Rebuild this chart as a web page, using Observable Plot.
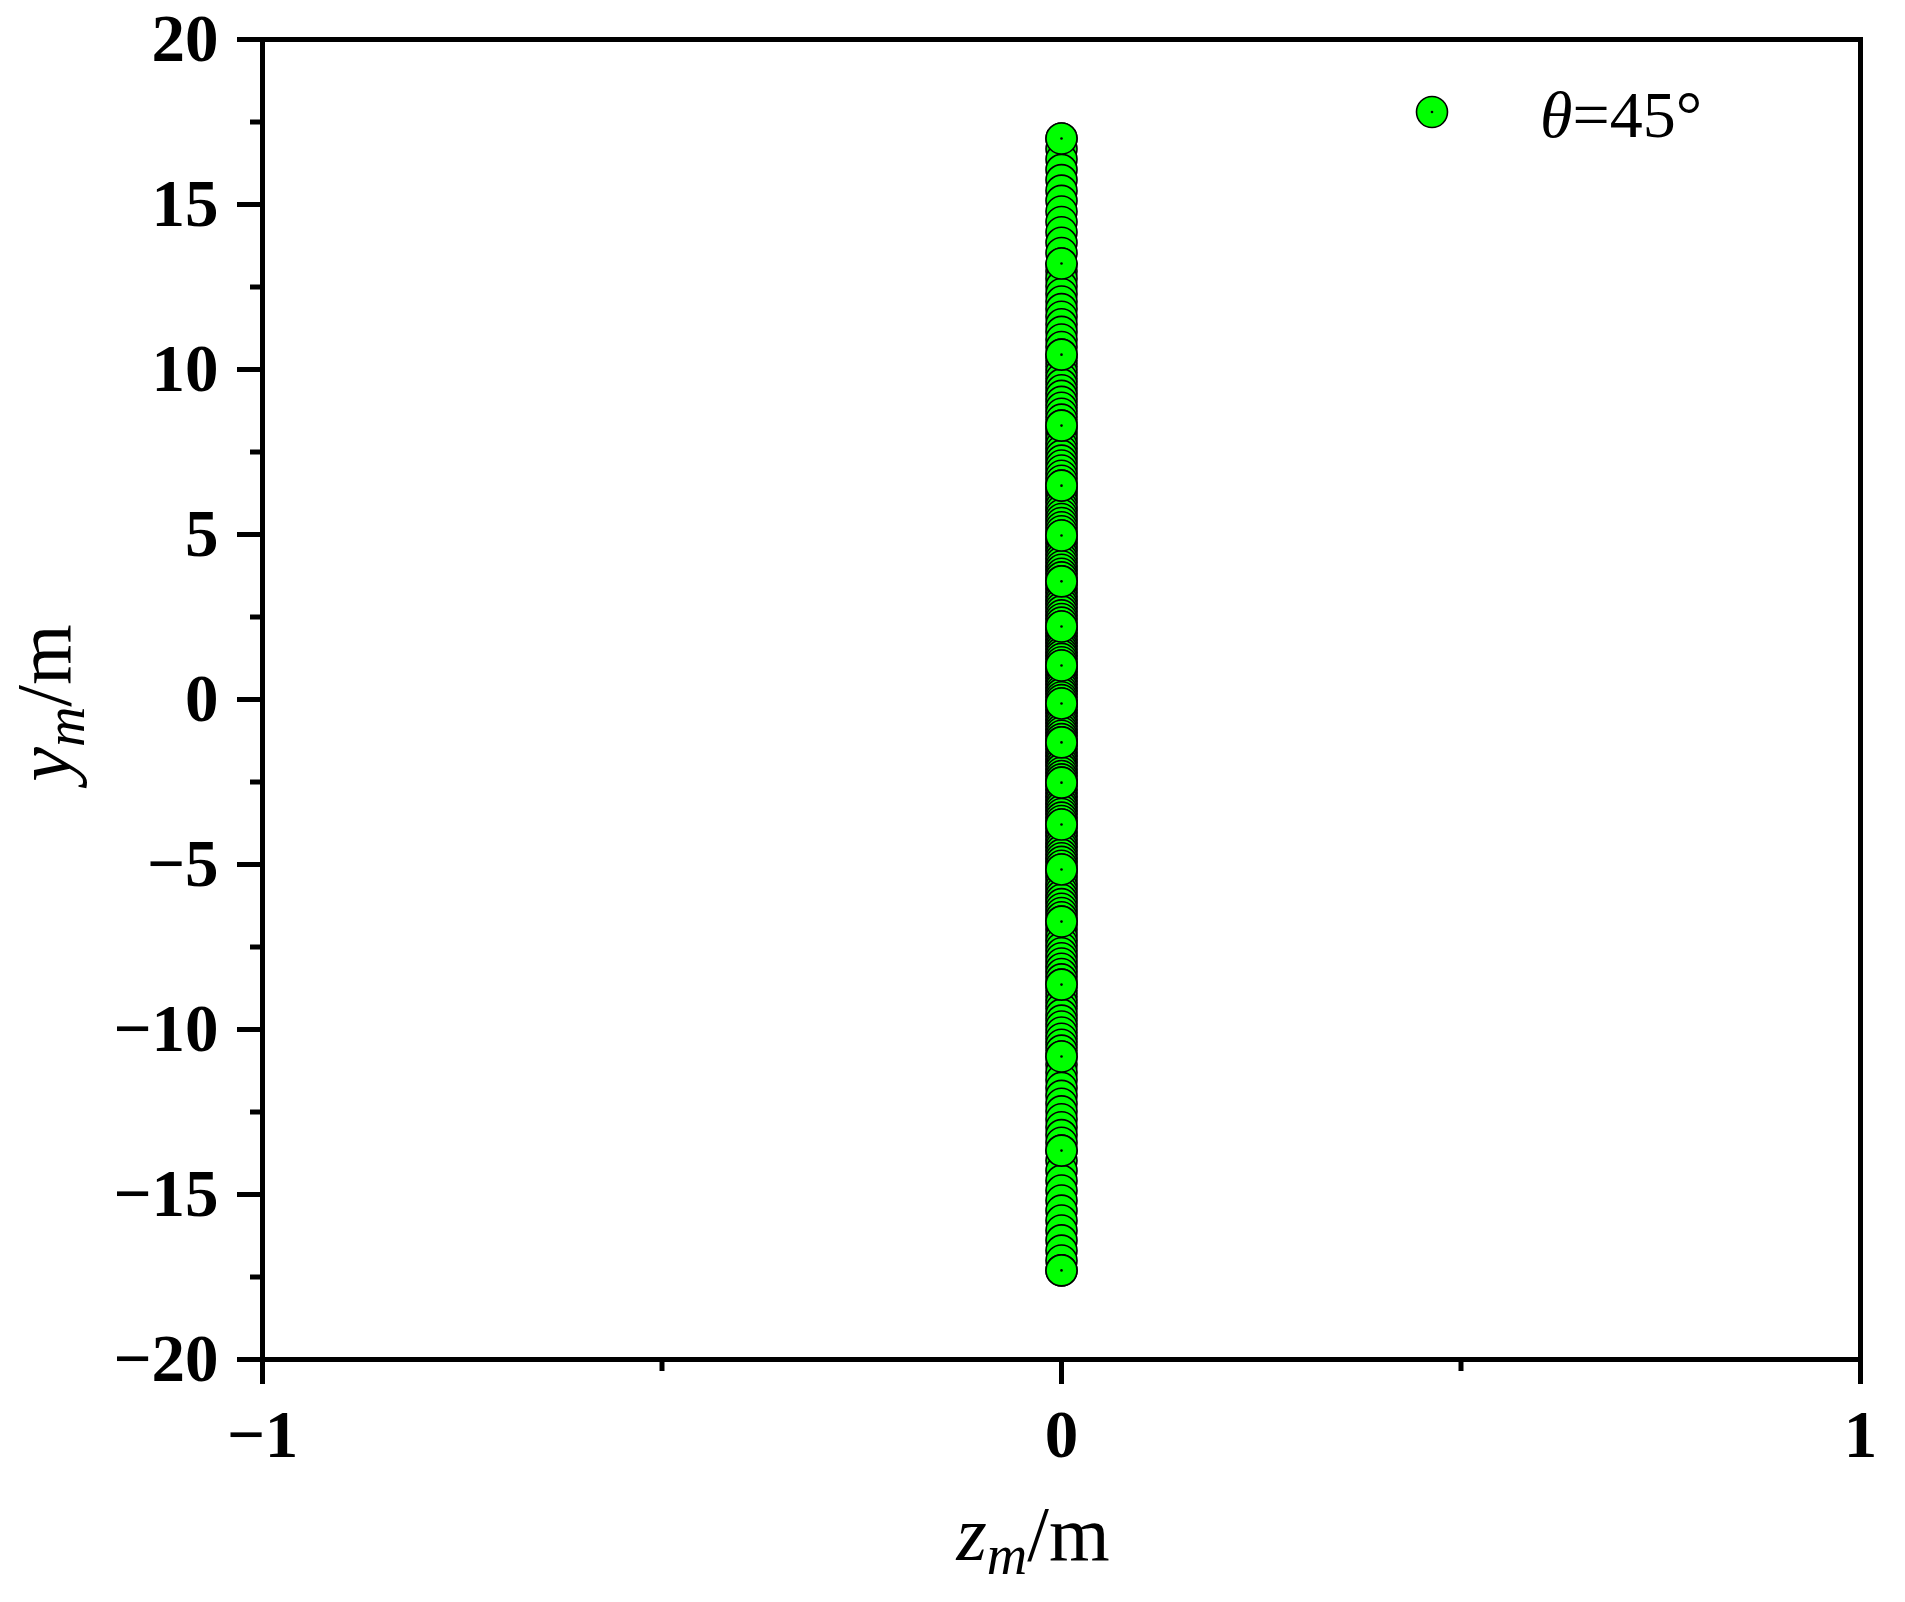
<!DOCTYPE html>
<html>
<head>
<meta charset="utf-8">
<script src="https://cdn.jsdelivr.net/npm/d3@7"></script>
<script src="https://cdn.jsdelivr.net/npm/@observablehq/plot@0.6"></script>
<style>
  html, body { margin: 0; padding: 0; background: #fff; }
  #chart { position: relative; width: 1905px; height: 1602px; }
</style>
</head>
<body>
<div id="chart"></div>
<script>
// ---- data ----
const seriesName = "θ=45°";
const zColumn = 0; // every point lies on z_m = 0

// nodes drawn fully visible (on top)
const nodeY = [17.00, 13.21, 10.45, 8.30, 6.48, 4.97, 3.58, 2.21, 1.03, -0.12,
  -1.30, -2.52, -3.79, -5.15, -6.73, -8.64, -10.82, -13.67, -17.30];

// densely packed points between the nodes
const innerY = [
  16.68, 16.37, 16.05, 15.74, 15.42, 15.11, 14.79, 14.47, 14.16, 13.84, 13.53,
  12.98, 12.75, 12.52, 12.29, 12.06, 11.83, 11.60, 11.37, 11.14, 10.91, 10.68,
  10.27, 10.09, 9.91, 9.73, 9.55, 9.37, 9.20, 9.02, 8.84, 8.66, 8.48,
  8.15, 8.00, 7.85, 7.69, 7.54, 7.39, 7.24, 7.09, 6.94, 6.78, 6.63,
  6.35, 6.23, 6.10, 5.98, 5.85, 5.73, 5.60, 5.47, 5.35, 5.22, 5.10,
  4.85, 4.74, 4.62, 4.51, 4.39, 4.27, 4.16, 4.04, 3.93, 3.81, 3.70,
  3.47, 3.35, 3.24, 3.12, 3.01, 2.90, 2.78, 2.67, 2.55, 2.44, 2.33,
  2.11, 2.01, 1.92, 1.82, 1.72, 1.62, 1.52, 1.42, 1.33, 1.23, 1.13,
  0.93, 0.84, 0.74, 0.65, 0.55, 0.46, 0.36, 0.26, 0.17, 0.07, -0.02,
  -0.22, -0.32, -0.41, -0.51, -0.61, -0.71, -0.81, -0.91, -1.00, -1.10, -1.20,
  -1.40, -1.50, -1.61, -1.71, -1.81, -1.91, -2.01, -2.11, -2.22, -2.32, -2.42,
  -2.63, -2.73, -2.84, -2.94, -3.05, -3.16, -3.26, -3.37, -3.47, -3.58, -3.68,
  -3.90, -4.02, -4.13, -4.24, -4.36, -4.47, -4.58, -4.70, -4.81, -4.92, -5.04,
  -5.28, -5.41, -5.55, -5.68, -5.81, -5.94, -6.07, -6.20, -6.34, -6.47, -6.60,
  -6.89, -7.05, -7.21, -7.37, -7.53, -7.69, -7.84, -8.00, -8.16, -8.32, -8.48,
  -8.82, -9.00, -9.19, -9.37, -9.55, -9.73, -9.91, -10.09, -10.28, -10.46, -10.64,
  -11.06, -11.30, -11.53, -11.77, -12.01, -12.25, -12.48, -12.72, -12.96, -13.20, -13.43,
  -13.97, -14.28, -14.58, -14.88, -15.18, -15.49, -15.79, -16.09, -16.39, -16.70, -17.00
];

const yTicks = [-20, -15, -10, -5, 0, 5, 10, 15, 20];
const yMinorTicks = [-17.5, -12.5, -7.5, -2.5, 2.5, 7.5, 12.5, 17.5];
const xTicks = [-1, 0, 1];
const xMinorTicks = [-0.5, 0.5];
const xDomain = [-1, 1];
const yDomain = [-20, 20];

// ---- build rows ----
const allPoints = nodeY.concat(innerY)
  .map(y => ({z: zColumn, y}))
  .sort((a, b) => b.y - a.y); // draw top to bottom
const nodes = nodeY.map(y => ({z: zColumn, y}));

const GREEN = "#00ff00";
const FONT = "Liberation Serif, LiberationSerif, Times New Roman, Tinos, Nimbus Roman, Times, serif";
const fmt = d3.format("d");

const plot = Plot.plot({
  width: 1905,
  height: 1602,
  marginLeft: 262,
  marginRight: 45,
  marginTop: 39,
  marginBottom: 243,
  style: {fontFamily: FONT, fontSize: "67px", fontWeight: "bold", background: "white", color: "black"},
  x: {domain: xDomain},
  y: {domain: yDomain},
  marks: [
    Plot.axisY({ticks: yTicks, tickSize: 25, tickPadding: 19, tickFormat: fmt, strokeWidth: 5, label: null, fontSize: 67, fontWeight: "bold", fontFamily: FONT}),
    Plot.axisY({ticks: yMinorTicks, tickSize: 12, text: null, strokeWidth: 5, label: null}),
    Plot.axisX({ticks: xTicks, tickSize: 25, tickPadding: 25, tickFormat: fmt, strokeWidth: 5, label: null, fontSize: 67, fontWeight: "bold", fontFamily: FONT}),
    Plot.axisX({ticks: xMinorTicks, tickSize: 12, text: null, strokeWidth: 5, label: null}),
    Plot.dot(allPoints, {x: "z", y: "y", r: 15.5, fill: GREEN, stroke: "black", strokeWidth: 1.6}),
    Plot.dot(nodes, {x: "z", y: "y", r: 15.5, fill: GREEN, stroke: "black", strokeWidth: 1.6}),
    Plot.dot(nodes, {x: "z", y: "y", r: 1.3, fill: "black"}),
    Plot.frame({stroke: "black", strokeWidth: 5})
  ]
});

document.getElementById("chart").appendChild(plot);

// ---- axis titles and legend ----
const svg = d3.select(plot);

// y axis title
const yt = svg.append("text")
  .attr("transform", "translate(70,703) rotate(-90)")
  .attr("text-anchor", "middle")
  .attr("font-family", FONT).attr("font-size", 78).attr("font-weight", "normal")
  .attr("fill", "black");
yt.append("tspan").attr("font-style", "italic").text("y");
yt.append("tspan").attr("font-style", "italic").attr("font-size", 56).attr("dy", 14).text("m");
yt.append("tspan").attr("dy", -14).text("/m");

// x axis title
const xt = svg.append("text")
  .attr("x", 1033).attr("y", 1560)
  .attr("text-anchor", "middle")
  .attr("font-family", FONT).attr("font-size", 78).attr("font-weight", "normal")
  .attr("fill", "black");
xt.append("tspan").attr("font-style", "italic").text("z");
xt.append("tspan").attr("font-style", "italic").attr("font-size", 56).attr("dy", 14).text("m");
xt.append("tspan").attr("dy", -14).text("/m");

// legend
svg.append("circle").attr("cx", 1432).attr("cy", 112).attr("r", 15.5)
  .attr("fill", GREEN).attr("stroke", "black").attr("stroke-width", 1.6);
svg.append("circle").attr("cx", 1432).attr("cy", 112).attr("r", 1.3).attr("fill", "black");
const lg = svg.append("text")
  .attr("x", 1540).attr("y", 137)
  .attr("text-anchor", "start")
  .attr("font-family", FONT).attr("font-size", 66).attr("font-weight", "normal")
  .attr("fill", "black");
lg.append("tspan").attr("font-style", "italic").text(seriesName.slice(0, 1));
lg.append("tspan").text(seriesName.slice(1));
</script>
</body>
</html>
